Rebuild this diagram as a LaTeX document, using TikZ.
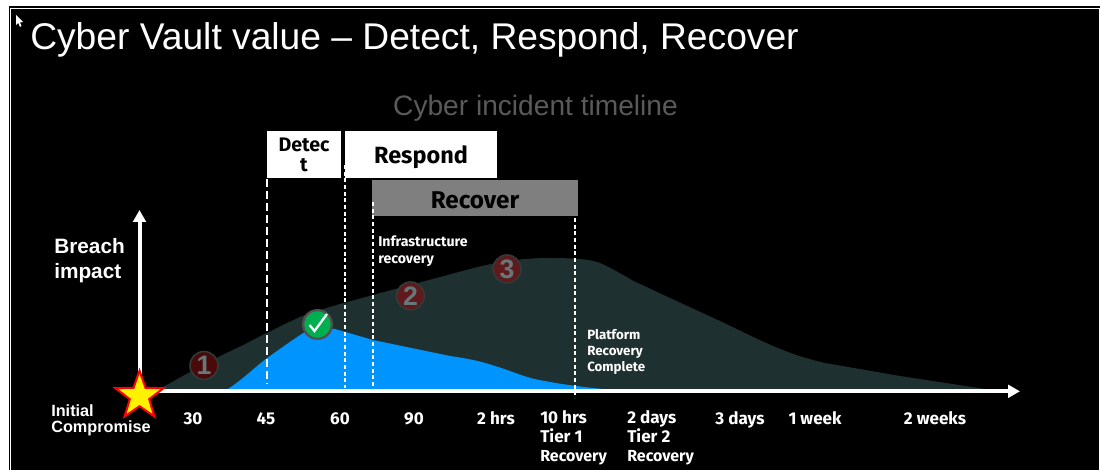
\documentclass[tikz,border=0pt]{standalone}
\usepackage{fontspec}
\setmainfont{Liberation Sans}
\newfontfamily\plex{Fira Sans}
\usetikzlibrary{shapes.geometric,arrows.meta}
\definecolor{areadark}{HTML}{1F3030}
\definecolor{areablue}{HTML}{0094FF}
\definecolor{boxgrey}{HTML}{7F7F7F}
\definecolor{titlegrey}{HTML}{5A5A5A}
\definecolor{markred}{HTML}{5E1A1C}
\definecolor{markdark}{HTML}{4A0A0A}
\definecolor{markedge}{HTML}{343A3A}
\definecolor{markdigit}{HTML}{66787A}
\definecolor{okedge}{HTML}{505050}
\definecolor{okgreen}{HTML}{00B050}
\newcommand{\recoveryword}{{\fontsize{12}{14}\selectfont Recovery}}
\tikzset{
  x=0.75pt,y=-0.75pt,
  axisline/.style={draw=white,line width=3pt,-{Triangle[length=9pt,width=9.5pt]}},
  dashthick/.style={draw=white,line width=1.1pt,dash pattern=on 6pt off 3pt},
  dashthin/.style={draw=white,line width=0.8pt,dash pattern=on 3pt off 2pt},
  phase/.style={inner sep=0pt,align=center,text=black},
  tick/.style={inner sep=0pt,anchor=base,text=white,font=\plex\bfseries\fontsize{12.8}{14.2}\selectfont},
  ticklist/.style={inner sep=0pt,text=white,font=\plex\bfseries\fontsize{12.8}{14.2}\selectfont,anchor=west,align=left},
  note/.style={inner sep=0pt,anchor=west,align=left,text=white},
  marker/.style={circle,fill=markred,draw=markedge,line width=1.2pt,inner sep=0pt,text=markdigit,font=\bfseries\fontsize{20}{20}\selectfont,minimum size=21pt},
}
\begin{document}
\begin{tikzpicture}
\useasboundingbox (0,0) rectangle (1100,470);
\fill[white] (0,0) rectangle (1100,470);
\fill[black] (9,6) rectangle (1100,470);
\draw[white,line width=0.6pt] (10.8,8) -- (1099,8);
\draw[white,line width=0.6pt] (10.8,8) -- (10.8,470);
\fill[white] (1099.3,8) rectangle (1100,470);
% cursor
\fill[white] (16,15) -- (16,25) -- (18.3,23) -- (20,27) -- (21.5,26) -- (20,22.5) -- (23,22) -- cycle;
% title
\node[inner sep=0pt,anchor=base west,text=white,font=\fontsize{27.9}{30}\selectfont] (title) at (30,50) {Cyber Vault value -- Detect, Respond, Recover};
\node[inner sep=0pt,text=titlegrey,font=\fontsize{21.1}{24}\selectfont] (timeline) at (535.5,108.5) {Cyber incident timeline};
% areas
\fill[areadark] (155,390) -- (163,387) .. controls (190,372) and (215,358) .. (233,350) .. controls (250,342) and (260,336) .. (267,333) .. controls (285,324) and (295,319) .. (305,315) .. controls (320,310) and (330,307) .. (340,304) -- (373,295) -- (470,269) .. controls (500,261) and (525,258) .. (550,258) .. controls (570,258) and (590,259) .. (600,263) .. controls (620,272) and (630,280) .. (640,284) .. controls (670,298) and (700,312) .. (720,321) .. controls (760,340) and (785,354) .. (825,363) -- (900,376) -- (985,389) -- (990,390) -- cycle;
\fill[areablue] (226,390) .. controls (240,382) and (255,367) .. (267,358) .. controls (280,349) and (295,338) .. (305,332) .. controls (315,328) and (325,328) .. (335,329) -- (373,340) -- (450,356) .. controls (470,359) and (480,361) .. (495,366) .. controls (515,372) and (525,378) .. (545,381) .. controls (565,385) and (590,388) .. (615,390) -- cycle;
% phase boxes
\fill[white] (267,131) rectangle (341,178);
\node[phase,font=\plex\bfseries\fontsize{14.7}{15}\selectfont] (detect) at (304,155) {Detec\\t};
\fill[white] (345,131) rectangle (497,178);
\node[phase,font=\plex\bfseries\fontsize{17.6}{19}\selectfont] (respond) at (421,157) {Respond};
\fill[boxgrey] (372,180) rectangle (578,216);
\node[phase,font=\plex\bfseries\fontsize{18.2}{19}\selectfont] (recover) at (475,200) {Recover};
% dashed guides
\coordinate (d1a) at (267,179); \coordinate (d1b) at (267,384);
\coordinate (d2a) at (345,165); \coordinate (d2b) at (345,388);
\coordinate (d3a) at (373,202); \coordinate (d3b) at (373,393);
\coordinate (d4a) at (575,218); \coordinate (d4b) at (575,398);
\draw[dashthick] (d1a) -- (d1b);
\draw[dashthin] (d2a) -- (d2b);
\draw[dashthin] (d3a) -- (d3b);
\draw[dashthin] (d4a) -- (d4b);
% markers
\node[marker,fill=markdark] (m1) at (204,365.5) {1};
\node[marker] (m2) at (410.5,296) {2};
\node[marker] (m3) at (507,269) {3};
\node[circle,fill=okgreen,draw=okedge,line width=1.7pt,minimum size=21.5pt,inner sep=0pt] (ok) at (317.5,324.5) {};
\draw[white,line width=1.7pt] (309.5,325) -- (314.5,331) -- (327,314);
% axes
\coordinate (origin) at (139.5,391.3);
\coordinate (xend) at (1020,391.3);
\coordinate (yend) at (139.5,210);
\draw[axisline] (origin) -- (xend);
\draw[axisline] (origin) -- (yend);
\node[star,star points=5,star point ratio=2.5,fill=yellow,draw=red,line width=1.5pt,minimum size=38pt,inner sep=0pt] (star) at (139.5,396) {};
% labels
\node[inner sep=0pt,anchor=west,align=left,text=white,font=\bfseries\fontsize{15.6}{19}\selectfont] (breach) at (54,260.5) {Breach\\impact};
\node[inner sep=0pt,anchor=west,align=left,text=white,font=\bfseries\fontsize{12.2}{12}\selectfont] (initial) at (51,420) {Initial\\Compromise};
\node[note,font=\plex\bfseries\fontsize{10.6}{12.6}\selectfont] (infra) at (378,251) {Infrastructure\\recovery};
\node[note,font=\plex\bfseries\fontsize{10}{12}\selectfont] (platform) at (587,351.5) {Platform\\Recovery\\Complete};
\node[tick] (t30) at (193,424) {30};
\node[tick] (t45) at (266,424) {45};
\node[tick] (t60) at (340,424) {60};
\node[tick] (t90) at (414,424) {90};
\node[tick] (t2h) at (496,424) {2 hrs};
\node[ticklist] (t10h) at (540,438) {10 hrs\\Tier 1\\\recoveryword};
\node[ticklist] (t2d) at (627,438) {2 days\\Tier 2\\\recoveryword};
\node[tick] (t3d) at (740,424) {3 days};
\node[tick] (t1w) at (815,424) {1 week};
\node[tick] (t2w) at (935,424) {2 weeks};
\end{tikzpicture}
\end{document}
